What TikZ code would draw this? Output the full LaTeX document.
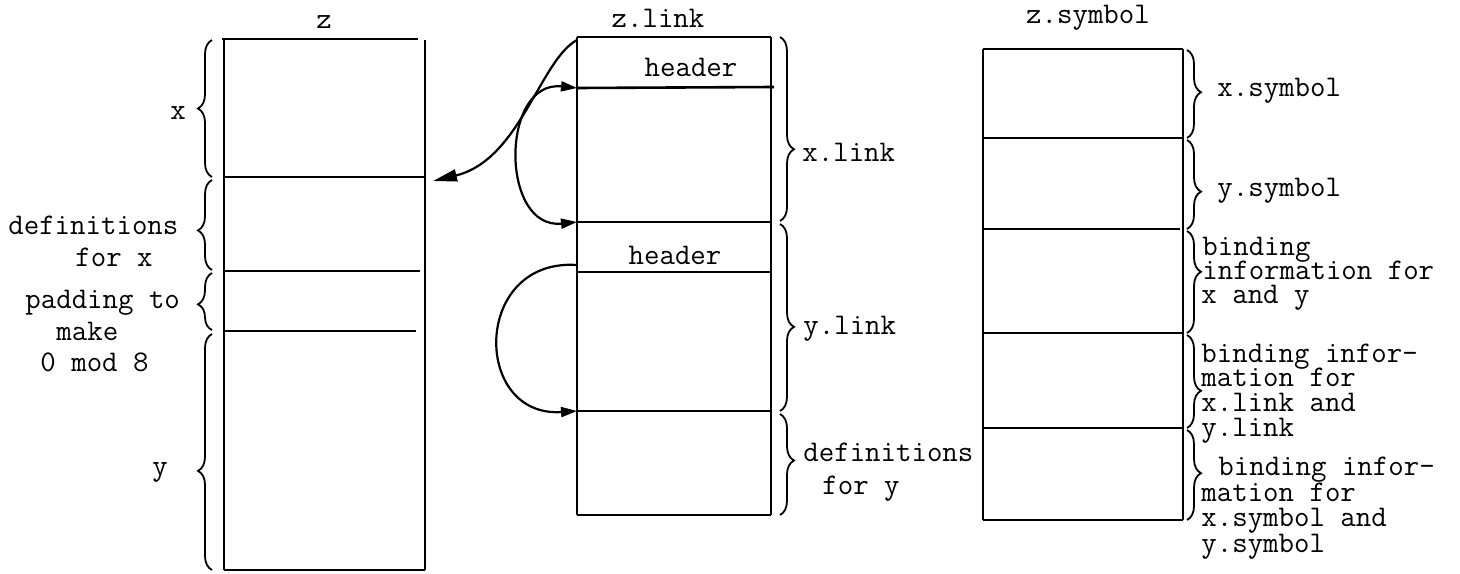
\documentclass[tikz,border=0pt]{standalone}
\usepackage{fontspec}
\usetikzlibrary{arrows.meta,decorations.pathreplacing}
\begin{document}
\begin{tikzpicture}[x=0.5pt,y=-0.5pt,
  lbl/.style={font=\ttfamily\fontsize{15}{17}\selectfont, inner sep=0pt},
  edge/.style={line width=1.3pt},
  brc/.style={line width=0.9pt, decorate, decoration={brace, amplitude=7pt, aspect=#1}},
  conn/.style={line width=1.1pt},
  bigtip/.style={-{Triangle[length=12pt,width=6pt]}},
  smalltip/.style={{Triangle[length=8pt,width=5pt]}-{Triangle[length=8pt,width=5pt]}},
  onetip/.style={-{Triangle[length=8pt,width=5pt]}}
]
\useasboundingbox (0,0) rectangle (1460,573);

% ---- column z ----
\draw[edge] (222,39) -- (418,39);
\draw[edge] (224,40) -- (224,570);
\draw[edge] (425,40) -- (425,570);
\draw[edge] (224,177) -- (425,177);
\draw[edge] (224,271) -- (420,271);
\draw[edge] (224,331) -- (416,331);
\draw[edge] (224,570) -- (425,570);
\coordinate (zx) at (433,181);

\node[lbl] (tz) at (324,22) {z};
\draw[brc=0.5] (212,177) -- (212,40);
\draw[brc=0.44] (212,270) -- (212,180);
\draw[brc=0.45] (212,330) -- (212,273);
\draw[brc=0.42] (212,570) -- (212,334);
\node[lbl] (lx) at (178,113) {x};
\node[lbl,anchor=mid west] (ld1) at (8,230) {definitions};
\node[lbl,anchor=mid west] (ld2) at (75,262) {for x};
\node[lbl,anchor=mid west] (lp1) at (25,304) {padding to};
\node[lbl,anchor=mid west] (lp2) at (56,336) {make};
\node[lbl,anchor=mid west] (lp3) at (40,367) {0 mod 8};
\node[lbl] (ly) at (160,472) {y};

% ---- column z.link ----
\draw[edge] (577,37) -- (771,37);
\draw[edge] (577,37) -- (577,515);
\draw[edge] (771,37) -- (771,515);
\draw[edge] (577,88) -- (774,87);
\draw[edge] (577,222) -- (771,222);
\draw[edge] (577,272) -- (771,272);
\draw[edge] (577,411) -- (771,411);
\draw[edge] (577,515) -- (771,515);
\coordinate (lk0) at (577,40);
\coordinate (lk1) at (577,88);
\coordinate (lk2) at (577,222);
\coordinate (lk3) at (577,265);
\coordinate (lk4) at (577,411);

\node[lbl] (tl) at (658,18) {z.link};
\node[lbl] (h1) at (691,67) {header};
\node[lbl] (h2) at (675,255) {header};
\draw[brc=0.61] (780,37) -- (780,221);
\draw[brc=0.55] (780,224) -- (780,411);
\draw[brc=0.46] (780,414) -- (780,515);
\node[lbl,anchor=mid west] (xl) at (802,157) {x.link};
\node[lbl,anchor=mid west] (yl) at (803,330) {y.link};
\node[lbl,anchor=mid west] (dy1) at (803,457) {definitions};
\node[lbl,anchor=mid west] (dy2) at (822,490) {for y};

% connectors
\draw[conn,bigtip] (lk0) .. controls (540,60) and (520,160) .. (zx);
\draw[conn,smalltip] (lk1) .. controls (500,80) and (500,230) .. (lk2);
\draw[conn,onetip] (lk3) .. controls (472,258) and (472,418) .. (lk4);

% ---- column z.symbol ----
\draw[edge] (983,49) -- (1183,49);
\draw[edge] (983,49) -- (983,520);
\draw[edge] (1183,49) -- (1183,520);
\draw[edge] (983,138) -- (1183,138);
\draw[edge] (983,229) -- (1180,229);
\draw[edge] (983,333) -- (1183,333);
\draw[edge] (983,428) -- (1183,428);
\draw[edge] (983,520) -- (1183,520);

\node[lbl] (ts) at (1088,18) {z.symbol};
\draw[brc=0.48] (1187,50) -- (1187,138);
\draw[brc=0.58] (1187,140) -- (1187,229);
\draw[brc=0.4] (1187,231) -- (1187,333);
\draw[brc=0.6] (1187,335) -- (1187,428);
\draw[brc=0.48] (1187,430) -- (1187,520);
\node[lbl,anchor=mid west] (xs) at (1217,92) {x.symbol};
\node[lbl,anchor=mid west] (ys) at (1217,192) {y.symbol};
\node[lbl,anchor=mid west] (b1a) at (1202,251) {binding};
\node[lbl,anchor=mid west] (b1b) at (1202,275) {information for};
\node[lbl,anchor=mid west] (b1c) at (1201,299) {x and y};
\node[lbl,anchor=mid west] (b2a) at (1201,358) {binding infor-};
\node[lbl,anchor=mid west] (b2b) at (1201,382) {mation for};
\node[lbl,anchor=mid west] (b2c) at (1201,407) {x.link and};
\node[lbl,anchor=mid west] (b2d) at (1201,432) {y.link};
\node[lbl,anchor=mid west] (b3a) at (1218,471) {binding infor-};
\node[lbl,anchor=mid west] (b3b) at (1201,497) {mation for};
\node[lbl,anchor=mid west] (b3c) at (1201,522) {x.symbol and};
\node[lbl,anchor=mid west] (b3d) at (1201,548) {y.symbol};
\end{tikzpicture}
\end{document}
